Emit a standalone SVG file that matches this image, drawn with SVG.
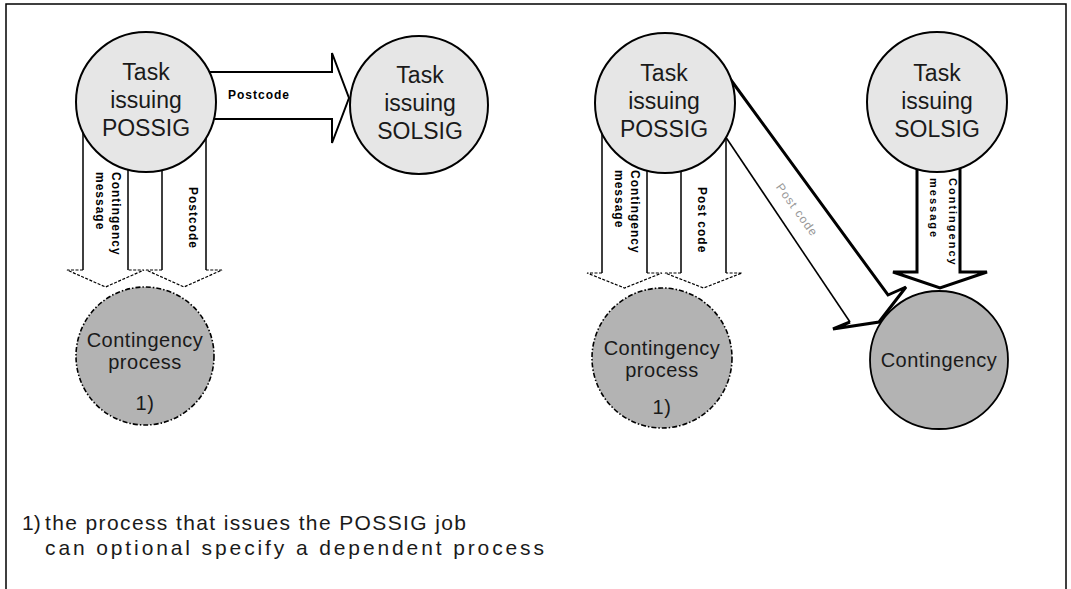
<svg xmlns="http://www.w3.org/2000/svg" width="1071" height="589" viewBox="0 0 1071 589">
<style>
.top{fill:#e6e6e6;stroke:#000;stroke-width:2}
.cont{fill:#b3b3b3;stroke:#000;stroke-width:1.6;stroke-dasharray:5 2 1.5 2}
.contS{fill:#b3b3b3;stroke:#000;stroke-width:1.8}
.big{font-family:"Liberation Sans",Arial,sans-serif;font-size:23px;fill:#1a1a1a;text-anchor:middle}
.mid{font-family:"Liberation Sans",Arial,sans-serif;font-size:20px;fill:#1a1a1a;text-anchor:middle;letter-spacing:0.5px}
.lbl{font-family:"Liberation Sans",Arial,sans-serif;font-size:12px;font-weight:bold;fill:#000;letter-spacing:1px}
.lbl2{font-family:"Liberation Sans",Arial,sans-serif;font-size:11px;font-weight:bold;fill:#000;letter-spacing:2px}
.gray{font-family:"Liberation Sans",Arial,sans-serif;font-size:12px;fill:#999;letter-spacing:1px;text-anchor:middle}
.note{font-family:"Liberation Sans",Arial,sans-serif;font-size:21px;fill:#1a1a1a}
.shaft{fill:none;stroke:#000;stroke-width:1.5}
.head{fill:none;stroke:#000;stroke-width:1.2;stroke-dasharray:3 1.5}
.bold{fill:#fff;stroke:#000;stroke-width:2}
</style>
<rect x="0" y="0" width="1071" height="589" fill="#fff"/>
<rect x="6" y="4" width="1060" height="600" fill="none" stroke="#000" stroke-width="1.5"/>

<g id="connectors">
  <path class="bold" d="M200,72 H332 V53 L349,98 L332,143 V119 H200"/>
  <path class="shaft" d="M83,120 V270 M128,120 V270"/>
  <path class="head" d="M83,270 H67 L105.5,287 L144,270 H128"/>
  <path class="shaft" d="M162,120 V270 M206,120 V270"/>
  <path class="head" d="M162,270 H146 L184,287 L222,270 H206"/>
  <path class="shaft" d="M602,120 V273 M647,120 V273"/>
  <path class="head" d="M602,273 H587 L624.5,288 L662,273 H647"/>
  <path class="shaft" d="M681,120 V273 M726,120 V273"/>
  <path class="head" d="M681,273 H665 L703.5,288 L742,273 H726"/>
  <path d="M728,76 L888,295 L906,287 L879,322 L833,329 L850,322" fill="none" stroke="#000" stroke-width="3" stroke-linejoin="miter"/>
  <path d="M850,322 L721,130" fill="none" stroke="#000" stroke-width="1.6"/>
  <path d="M917,160 V272 H893 L940,288 L987,272 H960 V160" fill="none" stroke="#000" stroke-width="3"/>

  <text class="lbl" x="228" y="99">Postcode</text>
  <text class="lbl" transform="translate(112,172) rotate(90)">Contingency</text>
  <text class="lbl" transform="translate(96,172) rotate(90)">message</text>
  <text class="lbl" transform="translate(189,187) rotate(90)">Postcode</text>
  <text class="lbl" transform="translate(631,170) rotate(90)">Contingency</text>
  <text class="lbl" transform="translate(615,170) rotate(90)">message</text>
  <text class="lbl" transform="translate(698,187) rotate(90)">Post code</text>
  <text class="gray" transform="translate(797,210) rotate(54)" y="4">Post code</text>
  <text class="lbl2" transform="translate(949,178) rotate(90)">Contingency</text>
  <text class="lbl2" transform="translate(930,178) rotate(90)">message</text>
</g>

<g id="possig-left">
  <circle class="top" cx="146" cy="102" r="70"/>
  <text class="big" x="146" y="80">Task</text>
  <text class="big" x="146" y="108">issuing</text>
  <text class="big" x="146" y="136">POSSIG</text>
</g>
<g id="solsig-left">
  <circle class="top" cx="419" cy="105" r="69"/>
  <text class="big" x="420" y="83">Task</text>
  <text class="big" x="420" y="111">issuing</text>
  <text class="big" x="420" y="139">SOLSIG</text>
</g>
<g id="contingency-process-left">
  <circle class="cont" cx="145" cy="356" r="69"/>
  <text class="mid" x="145" y="347">Contingency</text>
  <text class="mid" x="145" y="369">process</text>
  <text class="mid" x="145" y="410">1)</text>
</g>
<g id="possig-right">
  <circle class="top" cx="665" cy="103" r="70"/>
  <text class="big" x="664" y="81">Task</text>
  <text class="big" x="664" y="109">issuing</text>
  <text class="big" x="664" y="137">POSSIG</text>
</g>
<g id="solsig-right">
  <circle class="top" cx="937" cy="102" r="70"/>
  <text class="big" x="937" y="81">Task</text>
  <text class="big" x="937" y="109">issuing</text>
  <text class="big" x="937" y="137">SOLSIG</text>
</g>
<g id="contingency-process-right">
  <circle class="cont" cx="662" cy="358" r="70"/>
  <text class="mid" x="662" y="355">Contingency</text>
  <text class="mid" x="662" y="377">process</text>
  <text class="mid" x="662" y="414">1)</text>
</g>
<g id="contingency-right">
  <circle class="contS" cx="939" cy="360" r="69"/>
  <text class="mid" x="939" y="367">Contingency</text>
</g>

<g id="footnote">
  <text class="note" x="22" y="530">1)</text>
  <text class="note" x="45" y="530" textLength="421" lengthAdjust="spacing">the process that issues the POSSIG job</text>
  <text class="note" x="45" y="555" textLength="499" lengthAdjust="spacing">can optional specify a dependent process</text>
</g>
</svg>
